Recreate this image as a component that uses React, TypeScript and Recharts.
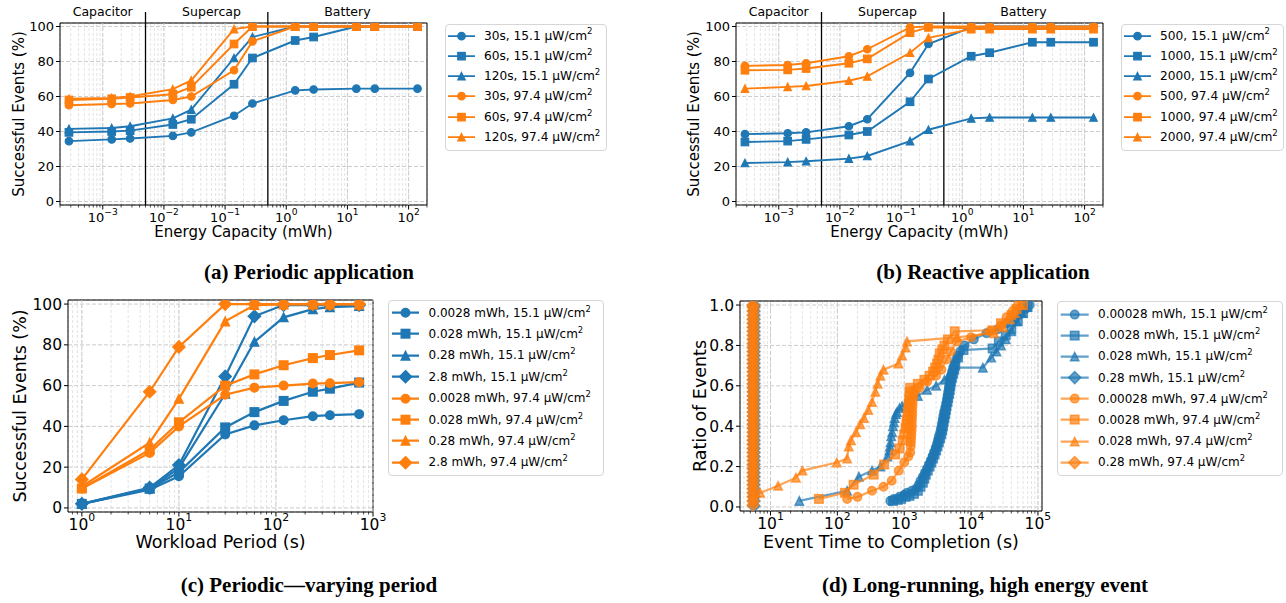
import React from "react";
import {
  ScatterChart,
  Scatter,
  XAxis,
  YAxis,
  CartesianGrid,
  ReferenceLine,
  ReferenceArea,
  Legend,
} from "recharts";

const BLUE = "#1f77b4";
const ORANGE = "#ff7f0e";
const SANS = "'DejaVu Sans', sans-serif";
const SERIF = "'Liberation Serif', serif";

// ---- (a) periodic / (b) reactive: energy capacity sweep ----
const capacityMWh = [0.00028, 0.0014, 0.0028, 0.014, 0.028, 0.14, 0.28, 1.4, 2.8, 14, 28, 140];

const periodic30Low = [34.5, 35.5, 36, 37.5, 39.5, 49, 56, 63.5, 64, 64.5, 64.5, 64.5];
const periodic60Low = [39.5, 40, 40.5, 44, 47, 67, 82, 92, 94, 100, 100, 100];
const periodic120Low = [41.5, 42, 43, 47.5, 52.5, 82, 94, 100, 100, 100, 100, 100];
const periodic30High = [55, 55.7, 56, 58, 60, 75, 91.5, 100, 100, 100, 100, 100];
const periodic60High = [58, 58.7, 59.4, 61.3, 65.3, 90, 100, 100, 100, 100, 100, 100];
const periodic120High = [58.7, 59.2, 60, 64.2, 69.2, 98.5, 100, 100, 100, 100, 100, 100];

const reactive500Low = [38.5, 39, 39.5, 43, 47, 73.5, 90, 99.5, 100, 100, 100, 100];
const reactive1000Low = [34, 34.5, 35.5, 38, 40, 57, 70, 83, 85, 91, 91, 91];
const reactive2000Low = [22, 22.5, 23, 24.5, 26, 34.5, 41, 47.5, 48, 48, 48, 48];
const reactive500High = [77.5, 78, 79, 83, 87, 99.5, 100, 100, 100, 100, 100, 100];
const reactive1000High = [75, 75.2, 76, 79, 81.5, 96.5, 99.5, 99, 99, 99, 99, 99];
const reactive2000High = [64.5, 65.5, 66, 69, 71.5, 85, 93.5, 98.5, 98.5, 98.5, 98.5, 98.5];

const storageDividers = [0.005, 0.5];
const storageRegions = [
  { x: 0.001, text: "Capacitor" },
  { x: 0.06, text: "Supercap" },
  { x: 10, text: "Battery" },
];

// ---- (c) periodic, varying period ----
const periodSec = [1, 5, 10, 30, 60, 120, 240, 360, 720];
const varying0028Low = [2, 9, 15.5, 36, 40.5, 43, 45, 45.5, 46];
const varying028Low = [2, 9.5, 17.5, 39.5, 47, 52.5, 57, 58.5, 61.5];
const varying28Low = [2, 9.5, 19.5, 56, 81.5, 93.5, 97.5, 98.5, 99];
const varying2_8Low = [2, 10, 21, 64.5, 94, 99.5, 99.5, 99.5, 99.5];
const varying0028High = [9.5, 27, 40, 55.5, 59, 60, 61, 61.2, 61.7];
const varying028High = [9.5, 28.5, 42, 60, 65.5, 70, 73.5, 75, 77.3];
const varying28High = [10.5, 32, 53.5, 91.5, 99.5, 99.8, 99.8, 99.8, 99.8];
const varying2_8High = [14, 57, 79, 100, 100, 100, 100, 100, 100];

// ---- (d) long-running event: [time to completion (s), ratio of events] ----
const long00028Low = [[620, 0.03], [700, 0.04], [850, 0.05], [1000, 0.06], [1100, 0.07], [1300, 0.08], [1500, 0.09], [1650, 0.11], [1750, 0.13], [1900, 0.15], [2050, 0.17], [2200, 0.19], [2350, 0.21], [2500, 0.23], [2650, 0.25], [2800, 0.27], [2950, 0.29], [3100, 0.31], [3200, 0.33], [3300, 0.35], [3450, 0.37], [3550, 0.39], [3650, 0.41], [3750, 0.43], [3850, 0.45], [3950, 0.47], [4100, 0.49], [4250, 0.51], [4350, 0.53], [4450, 0.55], [4550, 0.57], [4650, 0.59], [4750, 0.61], [4850, 0.63], [5000, 0.65], [5200, 0.67], [5400, 0.69], [5700, 0.71], [6000, 0.73], [6400, 0.75], [6900, 0.77], [8000, 0.8], [11000, 0.83], [17000, 0.86], [25000, 0.88], [34000, 0.91], [45000, 0.93], [54000, 0.955], [65000, 0.98], [75000, 1.0]];
const long0028Low = [[680, 0.03], [800, 0.035], [900, 0.04], [1050, 0.05], [1200, 0.055], [1400, 0.065], [1600, 0.08], [1750, 0.1], [1900, 0.12], [2000, 0.14], [2100, 0.16], [2250, 0.18], [2400, 0.2], [2550, 0.22], [2700, 0.24], [2850, 0.26], [3000, 0.28], [3150, 0.3], [3300, 0.32], [3450, 0.34], [3600, 0.36], [3700, 0.38], [3800, 0.4], [3900, 0.42], [4000, 0.44], [4100, 0.46], [4200, 0.48], [4300, 0.5], [4450, 0.52], [4550, 0.54], [4700, 0.56], [4800, 0.58], [4900, 0.6], [5000, 0.62], [5200, 0.64], [5400, 0.66], [5600, 0.68], [5800, 0.7], [6400, 0.74], [7700, 0.777], [21000, 0.785], [26000, 0.82], [33000, 0.85], [40000, 0.88], [50000, 0.92], [60000, 0.96], [70000, 0.99]];
const long028Low = [[27, 0.03], [140, 0.08], [210, 0.15], [330, 0.18], [440, 0.2], [560, 0.25], [600, 0.28], [610, 0.3], [625, 0.32], [640, 0.35], [660, 0.37], [680, 0.4], [700, 0.42], [720, 0.44], [750, 0.46], [780, 0.47], [850, 0.49], [930, 0.5], [1100, 0.52], [1600, 0.55], [2200, 0.58], [3000, 0.6], [4000, 0.63], [4800, 0.66], [5400, 0.69], [15000, 0.69], [20000, 0.74], [24000, 0.77], [28000, 0.8], [33000, 0.83], [40000, 0.87], [48000, 0.92], [58000, 0.96], [68000, 0.99]];
const long28Low = [[5.65, 0.005], [5.65, 0.03], [5.65, 0.05], [5.65, 0.07], [5.65, 0.09], [5.65, 0.11], [5.65, 0.13], [5.65, 0.15], [5.65, 0.17], [5.65, 0.19], [5.65, 0.21], [5.65, 0.23], [5.65, 0.25], [5.65, 0.27], [5.65, 0.29], [5.65, 0.31], [5.65, 0.33], [5.65, 0.35], [5.65, 0.37], [5.65, 0.39], [5.65, 0.41], [5.65, 0.43], [5.65, 0.45], [5.65, 0.47], [5.65, 0.49], [5.65, 0.51], [5.65, 0.53], [5.65, 0.55], [5.65, 0.57], [5.65, 0.59], [5.65, 0.61], [5.65, 0.63], [5.65, 0.65], [5.65, 0.67], [5.65, 0.69], [5.65, 0.71], [5.65, 0.73], [5.65, 0.75], [5.65, 0.77], [5.65, 0.79], [5.65, 0.81], [5.65, 0.83], [5.65, 0.85], [5.65, 0.87], [5.65, 0.89], [5.65, 0.91], [5.65, 0.93], [5.65, 0.95], [5.65, 0.97], [5.65, 0.99], [5.65, 1.0]];
const long00028High = [[140, 0.04], [200, 0.05], [330, 0.08], [490, 0.1], [650, 0.13], [830, 0.18], [1000, 0.22], [1150, 0.25], [1230, 0.27], [1250, 0.3], [1260, 0.32], [1270, 0.34], [1280, 0.36], [1290, 0.38], [1300, 0.4], [1300, 0.42], [1310, 0.44], [1320, 0.46], [1320, 0.48], [1330, 0.5], [1340, 0.52], [1350, 0.54], [1380, 0.56], [1500, 0.58], [1700, 0.59], [2200, 0.62], [3000, 0.65], [3600, 0.68], [4300, 0.73], [5000, 0.77], [6100, 0.82], [10000, 0.84], [19000, 0.87], [28000, 0.9], [34000, 0.94], [42000, 0.97], [50000, 1.0]];
const long0028High = [[53, 0.04], [130, 0.07], [175, 0.11], [350, 0.16], [500, 0.21], [730, 0.26], [850, 0.29], [950, 0.33], [1000, 0.36], [1050, 0.39], [1080, 0.41], [1100, 0.43], [1120, 0.45], [1140, 0.47], [1150, 0.49], [1170, 0.51], [1190, 0.53], [1200, 0.55], [1210, 0.57], [1230, 0.59], [1600, 0.61], [2000, 0.63], [2400, 0.65], [2700, 0.67], [2900, 0.69], [3100, 0.71], [3250, 0.73], [3400, 0.76], [3700, 0.78], [4000, 0.8], [4500, 0.83], [5700, 0.87], [21000, 0.875], [28000, 0.91], [40000, 0.95], [48000, 0.98], [60000, 1.0]];
const long028High = [[7, 0.07], [13, 0.105], [24, 0.145], [30, 0.18], [98, 0.22], [140, 0.24], [148, 0.3], [160, 0.33], [190, 0.37], [220, 0.41], [250, 0.44], [290, 0.48], [330, 0.52], [370, 0.57], [400, 0.61], [440, 0.65], [490, 0.68], [820, 0.71], [930, 0.75], [1050, 0.79], [1100, 0.82], [6100, 0.84], [22000, 0.86], [30000, 0.89], [38000, 0.93], [45000, 0.96], [55000, 1.0]];
const long28High = [[5.5, 0.01], [5.5, 0.03], [5.5, 0.05], [5.5, 0.07], [5.5, 0.09], [5.5, 0.11], [5.5, 0.13], [5.5, 0.15], [5.5, 0.17], [5.5, 0.19], [5.5, 0.21], [5.5, 0.23], [5.5, 0.25], [5.5, 0.27], [5.5, 0.29], [5.5, 0.31], [5.5, 0.33], [5.5, 0.35], [5.5, 0.37], [5.5, 0.39], [5.5, 0.41], [5.5, 0.43], [5.5, 0.45], [5.5, 0.47], [5.5, 0.49], [5.5, 0.51], [5.5, 0.53], [5.5, 0.55], [5.5, 0.57], [5.5, 0.59], [5.5, 0.61], [5.5, 0.63], [5.5, 0.65], [5.5, 0.67], [5.5, 0.69], [5.5, 0.71], [5.5, 0.73], [5.5, 0.75], [5.5, 0.77], [5.5, 0.79], [5.5, 0.81], [5.5, 0.83], [5.5, 0.85], [5.5, 0.87], [5.5, 0.89], [5.5, 0.91], [5.5, 0.93], [5.5, 0.95], [5.5, 0.97], [5.5, 0.99], [5.5, 1.0]];

const pctTicks = [0, 20, 40, 60, 80, 100];
const ratioTicks = [0, 0.2, 0.4, 0.6, 0.8, 1.0];

type Pt = { x: number; y: number };
type MarkerKind = "circle" | "square" | "triangle" | "diamond";
type SeriesDef = { name: string; color: string; marker: MarkerKind; data: Pt[] };

const zip = (xs: number[], ys: number[]): Pt[] => xs.map((x, i) => ({ x, y: ys[i] }));
const fromPairs = (ps: number[][]): Pt[] => ps.map(([x, y]) => ({ x, y }));

function minorTicks(majors: number[], domain: [number, number]) {
  const out: number[] = [];
  const bases = [majors[0] / 10, ...majors];
  for (const b of bases) {
    for (let k = 2; k <= 9; k++) {
      const v = +(b * k).toPrecision(6);
      if (v >= domain[0] && v <= domain[1]) out.push(v);
    }
  }
  return out;
}

function Glyph({ kind, cx, cy, ms, ew, color, alpha }: { kind: MarkerKind; cx: number; cy: number; ms: number; ew: number; color: string; alpha: number }) {
  const h = ms / 2;
  const style = { fill: color, stroke: color, strokeWidth: ew, fillOpacity: alpha, strokeOpacity: alpha };
  if (kind === "circle") return <circle cx={cx} cy={cy} r={h} {...style} />;
  if (kind === "square") return <rect x={cx - h} y={cy - h} width={ms} height={ms} {...style} />;
  if (kind === "triangle") return <path d={`M${cx},${cy - h}L${cx + h},${cy + h}L${cx - h},${cy + h}Z`} {...style} />;
  const d = ms * Math.SQRT1_2;
  return <path d={`M${cx},${cy - d}L${cx + d},${cy}L${cx},${cy + d}L${cx - d},${cy}Z`} {...style} />;
}

type LegendCfg = { left: number; top: number; width: number; rowH: number; padTop: number; padBottom: number; padLeft: number; handle: number; gap: number; font: number };

type PanelCfg = {
  left: number; top: number; width: number; height: number;
  margin: { top: number; right: number; bottom: number; left: number };
  yAxisWidth: number; xAxisHeight: number;
  xDomain: [number, number]; xMajors: number[];
  yDomain: [number, number]; yTicks: number[]; yFmt?: (v: number) => string;
  xLabel: string; yLabel: string; xLabelOffset: number; yLabelOffset: number;
  tickFont: number; labelFont: number; xTickBaseline: number;
  ms: number; ew: number; lw: number; alpha: number;
  series: SeriesDef[];
  legend: LegendCfg;
  regions?: boolean;
};

function LegendBox({ cfg }: { cfg: PanelCfg }) {
  const L = cfg.legend;
  const svgW = L.padLeft + L.handle + L.gap;
  return (
    <div
      style={{
        width: L.width,
        boxSizing: "border-box",
        border: "1px solid #d6d6d6",
        borderRadius: 4,
        background: "rgba(255,255,255,0.8)",
        paddingTop: L.padTop,
        paddingBottom: L.padBottom,
        fontFamily: SANS,
        fontSize: L.font,
        color: "#000",
        whiteSpace: "nowrap",
        overflow: "hidden",
        lineHeight: 1,
      }}
    >
      {cfg.series.map((s) => (
        <div key={s.name} style={{ height: L.rowH, display: "flex", alignItems: "center" }}>
          <svg width={svgW} height={L.rowH} style={{ flex: "none" }}>
            <line x1={L.padLeft} x2={L.padLeft + L.handle} y1={L.rowH / 2} y2={L.rowH / 2} stroke={s.color} strokeWidth={cfg.lw} strokeOpacity={cfg.alpha} />
            <Glyph kind={s.marker} cx={L.padLeft + L.handle / 2} cy={L.rowH / 2} ms={cfg.ms} ew={cfg.ew} color={s.color} alpha={cfg.alpha} />
          </svg>
          <span>
            {s.name.replace("²", "")}
            <span style={{ fontSize: "0.7em", position: "relative", top: "-0.6em" }}>2</span>
          </span>
        </div>
      ))}
    </div>
  );
}

function supExp(v: number) {
  const e = Math.round(Math.log10(v));
  return e < 0 ? "\u2212" + String(-e) : String(e);
}

function Panel({ cfg }: { cfg: PanelCfg }) {
  const minors = minorTicks(cfg.xMajors, cfg.xDomain);
  const allTicks = [...cfg.xMajors, ...minors].sort((a, b) => a - b);
  const majorSet = new Set(cfg.xMajors);
  const fs = cfg.tickFont;

  const renderXTick = (p: any) => {
    const v = p.payload.value;
    const major = majorSet.has(v);
    return (
      <g>
        <line x1={p.x} x2={p.x} y1={p.y} y2={p.y + (major ? 4.5 : 2.5)} stroke="#000" strokeWidth={major ? 1 : 0.7} />
        {major && (
          <text x={p.x} y={p.y + cfg.xTickBaseline} textAnchor="middle" fontSize={fs} fontFamily={SANS} fill="#000">
            10
            <tspan dy={-fs * 0.55} fontSize={fs * 0.7}>
              {supExp(v)}
            </tspan>
          </text>
        )}
      </g>
    );
  };

  return (
    <div style={{ position: "absolute", left: cfg.left, top: cfg.top }}>
      <ScatterChart width={cfg.width} height={cfg.height} margin={cfg.margin}>
        <CartesianGrid horizontal={false} stroke="#e4e4e4" strokeDasharray="3 2" />
        <CartesianGrid vertical={false} stroke="#cccccc" strokeDasharray="4 2" />
        {cfg.xMajors.map((v) => (
          <ReferenceLine key={"g" + v} x={v} stroke="#cccccc" strokeDasharray="4 2" ifOverflow="visible" />
        ))}
        <XAxis
          dataKey="x"
          type="number"
          scale="log"
          domain={cfg.xDomain}
          allowDataOverflow
          ticks={allTicks}
          interval={0}
          height={cfg.xAxisHeight}
          axisLine={false}
          tickLine={false}
          tickSize={0}
          tickMargin={0}
          tick={renderXTick}
          label={{ value: cfg.xLabel, position: "insideBottom", offset: cfg.xLabelOffset, fill: "#000", fontSize: cfg.labelFont, fontFamily: SANS }}
        />
        <YAxis
          dataKey="y"
          type="number"
          domain={cfg.yDomain}
          allowDataOverflow
          ticks={cfg.yTicks}
          interval={0}
          width={cfg.yAxisWidth}
          axisLine={false}
          tickLine={{ stroke: "#000" }}
          tickSize={4}
          tickMargin={2}
          tickFormatter={cfg.yFmt}
          tick={{ fill: "#000", fontSize: fs, fontFamily: SANS }}
          label={{
            value: cfg.yLabel,
            angle: -90,
            position: "insideLeft",
            offset: cfg.yLabelOffset,
            fill: "#000",
            fontSize: cfg.labelFont,
            fontFamily: SANS,
            style: { textAnchor: "middle" },
          }}
        />
        {cfg.series.map((s) => (
          <Scatter
            key={s.name}
            name={s.name}
            data={s.data}
            fill={s.color}
            line={{ strokeWidth: cfg.lw, strokeOpacity: cfg.alpha, stroke: s.color }}
            isAnimationActive={false}
            shape={(p: any) => <Glyph kind={s.marker} cx={p.cx} cy={p.cy} ms={cfg.ms} ew={cfg.ew} color={s.color} alpha={cfg.alpha} />}
          />
        ))}
        {cfg.regions &&
          storageDividers.map((v) => (
            <ReferenceLine
              key={"d" + v}
              x={v}
              ifOverflow="visible"
              shape={(p: any) => (
                <line x1={p.x1} x2={p.x2} y1={Math.min(p.y1, p.y2) - 11} y2={Math.max(p.y1, p.y2)} stroke="#000" strokeWidth={1.3} />
              )}
            />
          ))}
        {cfg.regions &&
          storageRegions.map((r) => (
            <ReferenceLine
              key={r.text}
              x={r.x}
              stroke="none"
              label={{ value: r.text, position: "top", offset: 7, fill: "#000", fontSize: 12.5, fontFamily: SANS }}
            />
          ))}
        <ReferenceArea
          x1={cfg.xDomain[0]}
          x2={cfg.xDomain[1]}
          y1={cfg.yDomain[0]}
          y2={cfg.yDomain[1]}
          fill="none"
          stroke="#000"
          strokeWidth={1}
          ifOverflow="visible"
        />
        <Legend
          layout="vertical"
          align="center"
          verticalAlign="middle"
          wrapperStyle={{ left: cfg.legend.left, top: cfg.legend.top, width: cfg.legend.width }}
          content={() => <LegendBox cfg={cfg} />}
        />
      </ScatterChart>
    </div>
  );
}

const capAxis = { xDomain: [0.0002, 200] as [number, number], xMajors: [0.001, 0.01, 0.1, 1, 10, 100] };
const smallStyle = { tickFont: 13, labelFont: 15, xTickBaseline: 17, ms: 7.5, ew: 1.2, lw: 1.9, alpha: 1 };
const bigStyle = { tickFont: 15.5, labelFont: 17.5, xTickBaseline: 18, ms: 8.6, ew: 1.4, lw: 2.2 };

const panelA: PanelCfg = {
  left: 0, top: 0, width: 620, height: 250,
  margin: { top: 23, right: 193, bottom: 5, left: 10 },
  yAxisWidth: 50, xAxisHeight: 40,
  ...capAxis,
  yDomain: [-2, 102], yTicks: pctTicks,
  xLabel: "Energy Capacity (mWh)", yLabel: "Successful Events (%)", xLabelOffset: 8, yLabelOffset: 9,
  ...smallStyle,
  regions: true,
  series: [
    { name: "30s, 15.1 µW/cm²", color: BLUE, marker: "circle", data: zip(capacityMWh, periodic30Low) },
    { name: "60s, 15.1 µW/cm²", color: BLUE, marker: "square", data: zip(capacityMWh, periodic60Low) },
    { name: "120s, 15.1 µW/cm²", color: BLUE, marker: "triangle", data: zip(capacityMWh, periodic120Low) },
    { name: "30s, 97.4 µW/cm²", color: ORANGE, marker: "circle", data: zip(capacityMWh, periodic30High) },
    { name: "60s, 97.4 µW/cm²", color: ORANGE, marker: "square", data: zip(capacityMWh, periodic60High) },
    { name: "120s, 97.4 µW/cm²", color: ORANGE, marker: "triangle", data: zip(capacityMWh, periodic120High) },
  ],
  legend: { left: 445, top: 24, width: 162, rowH: 20.3, padTop: 0.5, padBottom: 3, padLeft: 2, handle: 27, gap: 9, font: 12.2 },
};

const panelB: PanelCfg = {
  ...panelA,
  left: 680, width: 606,
  margin: { top: 23, right: 183, bottom: 5, left: 6 },
  yLabelOffset: 8,
  series: [
    { name: "500, 15.1 µW/cm²", color: BLUE, marker: "circle", data: zip(capacityMWh, reactive500Low) },
    { name: "1000, 15.1 µW/cm²", color: BLUE, marker: "square", data: zip(capacityMWh, reactive1000Low) },
    { name: "2000, 15.1 µW/cm²", color: BLUE, marker: "triangle", data: zip(capacityMWh, reactive2000Low) },
    { name: "500, 97.4 µW/cm²", color: ORANGE, marker: "circle", data: zip(capacityMWh, reactive500High) },
    { name: "1000, 97.4 µW/cm²", color: ORANGE, marker: "square", data: zip(capacityMWh, reactive1000High) },
    { name: "2000, 97.4 µW/cm²", color: ORANGE, marker: "triangle", data: zip(capacityMWh, reactive2000High) },
  ],
  legend: { ...panelA.legend, left: 441, width: 163 },
};

const panelC: PanelCfg = {
  left: 0, top: 280, width: 620, height: 290,
  margin: { top: 20, right: 247, bottom: 13, left: 8 },
  yAxisWidth: 60, xAxisHeight: 45,
  xDomain: [0.72, 1000], xMajors: [1, 10, 100, 1000],
  yDomain: [-2, 102], yTicks: pctTicks,
  xLabel: "Workload Period (s)", yLabel: "Successful Events (%)", xLabelOffset: 9, yLabelOffset: 12,
  ...bigStyle, alpha: 1,
  series: [
    { name: "0.0028 mWh, 15.1 µW/cm²", color: BLUE, marker: "circle", data: zip(periodSec, varying0028Low) },
    { name: "0.028 mWh, 15.1 µW/cm²", color: BLUE, marker: "square", data: zip(periodSec, varying028Low) },
    { name: "0.28 mWh, 15.1 µW/cm²", color: BLUE, marker: "triangle", data: zip(periodSec, varying28Low) },
    { name: "2.8 mWh, 15.1 µW/cm²", color: BLUE, marker: "diamond", data: zip(periodSec, varying2_8Low) },
    { name: "0.0028 mWh, 97.4 µW/cm²", color: ORANGE, marker: "circle", data: zip(periodSec, varying0028High) },
    { name: "0.028 mWh, 97.4 µW/cm²", color: ORANGE, marker: "square", data: zip(periodSec, varying028High) },
    { name: "0.28 mWh, 97.4 µW/cm²", color: ORANGE, marker: "triangle", data: zip(periodSec, varying28High) },
    { name: "2.8 mWh, 97.4 µW/cm²", color: ORANGE, marker: "diamond", data: zip(periodSec, varying2_8High) },
  ],
  legend: { left: 388, top: 20, width: 216, rowH: 21.4, padTop: 1, padBottom: 2, padLeft: 3, handle: 27, gap: 9.5, font: 12 },
};

const panelD: PanelCfg = {
  left: 680, top: 280, width: 606, height: 290,
  margin: { top: 21, right: 244, bottom: 14, left: 0 },
  yAxisWidth: 60, xAxisHeight: 45,
  xDomain: [3.5, 115000], xMajors: [10, 100, 1000, 10000, 100000],
  yDomain: [-0.02, 1.02], yTicks: ratioTicks, yFmt: (v: number) => v.toFixed(1),
  xLabel: "Event Time to Completion (s)", yLabel: "Ratio of Events", xLabelOffset: 8, yLabelOffset: 20,
  ...bigStyle, alpha: 0.7,
  series: [
    { name: "0.00028 mWh, 15.1 µW/cm²", color: BLUE, marker: "circle", data: fromPairs(long00028Low) },
    { name: "0.0028 mWh, 15.1 µW/cm²", color: BLUE, marker: "square", data: fromPairs(long0028Low) },
    { name: "0.028 mWh, 15.1 µW/cm²", color: BLUE, marker: "triangle", data: fromPairs(long028Low) },
    { name: "0.28 mWh, 15.1 µW/cm²", color: BLUE, marker: "diamond", data: fromPairs(long28Low) },
    { name: "0.00028 mWh, 97.4 µW/cm²", color: ORANGE, marker: "circle", data: fromPairs(long00028High) },
    { name: "0.0028 mWh, 97.4 µW/cm²", color: ORANGE, marker: "square", data: fromPairs(long0028High) },
    { name: "0.028 mWh, 97.4 µW/cm²", color: ORANGE, marker: "triangle", data: fromPairs(long028High) },
    { name: "0.28 mWh, 97.4 µW/cm²", color: ORANGE, marker: "diamond", data: fromPairs(long28High) },
  ],
  legend: { left: 377, top: 21, width: 226, rowH: 21.2, padTop: 1.5, padBottom: 2, padLeft: 2.7, handle: 28, gap: 9.3, font: 12 },
};

const captions = [
  { text: "(a) Periodic application", cx: 309, top: 260 },
  { text: "(b) Reactive application", cx: 983, top: 260 },
  { text: "(c) Periodic\u2014varying period", cx: 309, top: 573 },
  { text: "(d) Long-running, high energy event", cx: 985, top: 573 },
];

export default function App() {
  return (
    <div style={{ position: "absolute", left: 0, top: 0, width: 1286, height: 603, background: "#fff", overflow: "hidden" }}>
      <Panel cfg={panelA} />
      <Panel cfg={panelB} />
      <Panel cfg={panelC} />
      <Panel cfg={panelD} />
      {captions.map((c) => (
        <div
          key={c.text}
          style={{
            position: "absolute",
            left: c.cx - 250,
            width: 500,
            top: c.top,
            textAlign: "center",
            fontFamily: SERIF,
            fontWeight: 700,
            fontSize: 21,
            lineHeight: "24px",
            color: "#000",
          }}
        >
          {c.text}
        </div>
      ))}
    </div>
  );
}
